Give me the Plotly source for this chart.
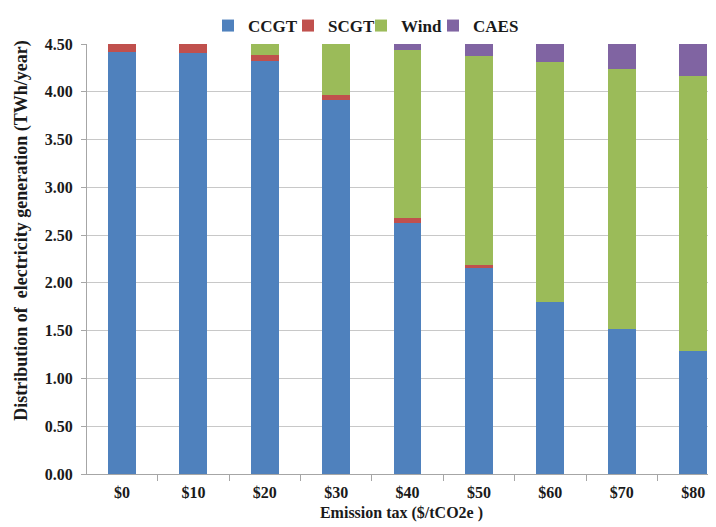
import plotly.graph_objects as go

categories = ["$0", "$10", "$20", "$30", "$40", "$50", "$60", "$70", "$80"]
ccgt = [4.42, 4.41, 4.32, 3.91, 2.63, 2.16, 1.80, 1.52, 1.29]
scgt = [0.09, 0.09, 0.07, 0.06, 0.045, 0.025, 0.0, 0.0, 0.0]
wind = [0.0, 0.02, 0.12, 0.54, 1.76, 2.19, 2.51, 2.72, 2.88]
caes = [0.0, 0.0, 0.0, 0.0, 0.065, 0.125, 0.19, 0.26, 0.33]
y_ticks = [0, 0.5, 1.0, 1.5, 2.0, 2.5, 3.0, 3.5, 4.0, 4.5]

series = [
    ("CCGT", ccgt, "#4F81BD"),
    ("SCGT", scgt, "#C0504D"),
    ("Wind", wind, "#9BBB59"),
    ("CAES", caes, "#8064A2"),
]
legend_ids = ["legend", "legend2", "legend3", "legend4"]
legend_x = [0.2825, 0.3955, 0.4986, 0.6003]

font_family = "Liberation Serif"
txt_color = "#1a1a1a"

fig = go.Figure()
for (name, vals, color), lg in zip(series, legend_ids):
    fig.add_trace(go.Bar(
        x=categories, y=vals, name=name,
        marker=dict(color=color, line=dict(width=0)),
        width=0.39,
        legend=lg,
    ))

legend_style = dict(
    orientation="h",
    xref="container", yref="container",
    xanchor="left",
    y=1.0, yanchor="top",
    font=dict(family=font_family, size=17, color=txt_color, weight="bold"),
    itemwidth=30,
    bgcolor="rgba(0,0,0,0)",
    borderwidth=0,
)

# the page body adds an 8px offset, so the figure is 8px smaller than the window
fig.update_layout(
    barmode="stack",
    width=708, height=519,
    margin=dict(l=79, r=0, t=30, b=53),
    paper_bgcolor="white",
    plot_bgcolor="white",
    font=dict(family=font_family, size=16, color=txt_color),
    showlegend=True,
    xaxis=dict(
        type="category",
        range=[-0.49, 8.32],
        automargin=False,
        showgrid=False,
        showline=True, linecolor="#A6A6A6", linewidth=1,
        ticks="outside", tickson="boundaries", ticklen=6, tickcolor="#A6A6A6",
        ticklabelstandoff=4,
        tickfont=dict(family=font_family, size=16, color=txt_color, weight="bold"),
        title=dict(text="Emission tax ($/tCO2e )", standoff=6,
                   font=dict(family=font_family, size=16, color=txt_color, weight="bold")),
    ),
    yaxis=dict(
        range=[0, 4.5],
        automargin=False,
        tickvals=y_ticks,
        tickformat=".2f",
        showgrid=True, gridcolor="#C8C8C8", gridwidth=1,
        showline=True, linecolor="#A6A6A6", linewidth=1,
        ticks="outside", ticklen=5, tickcolor="#A6A6A6",
        ticklabelstandoff=5,
        zeroline=False,
        tickfont=dict(family=font_family, size=16, color=txt_color, weight="bold"),
    ),
    annotations=[dict(
        text="Distribution of  electricity generation (TWh/year)",
        xref="paper", yref="paper",
        x=-0.1033, y=0.566, xanchor="center", yanchor="middle",
        textangle=-90, showarrow=False,
        font=dict(family=font_family, size=18, color=txt_color, weight="bold"),
    )],
)
for lg, lx in zip(legend_ids, legend_x):
    fig.update_layout({lg: dict(legend_style, x=lx)})

fig.write_html("out.html")
